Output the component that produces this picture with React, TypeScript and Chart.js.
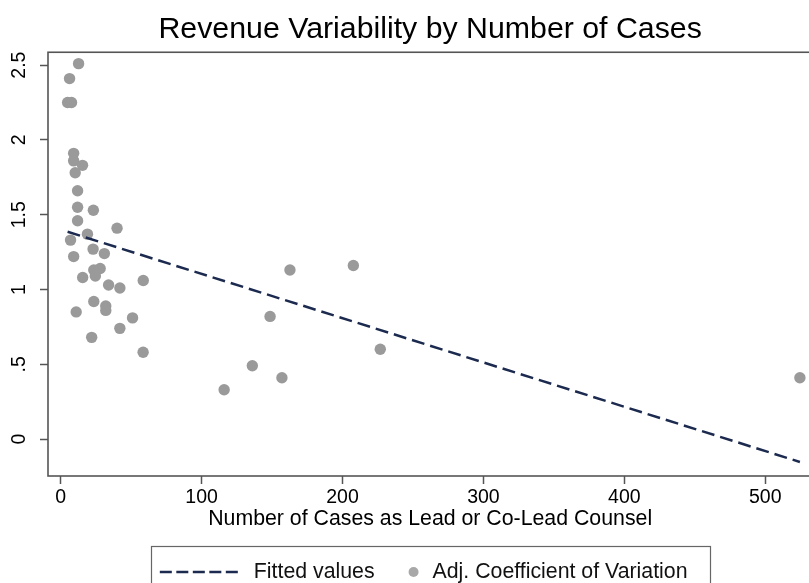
import React, { useEffect, useRef } from 'react';
import { Chart, registerables } from 'chart.js';

Chart.register(...registerables);

const FONT = "'Liberation Sans', Arial, Helvetica, sans-serif";

// Number of cases as lead or co-lead counsel (x) and adjusted coefficient of variation (y)
const caseCounts = [
  12.7, 6.3, 4.9, 7.7, 9.2, 9.2, 15.5, 10.3, 12, 12, 23.2, 12, 40, 19, 7, 23, 31, 9.2, 28, 23.5,
  24.6, 15.6, 34, 42, 58.6, 23.5, 32, 32, 11, 51, 42, 22, 58.5, 162.7, 207.7, 148.6, 226.8, 136,
  157, 116, 524.6,
];
const adjCoefVar = [
  2.51, 2.41, 2.25, 2.25, 1.91, 1.86, 1.83, 1.78, 1.66, 1.55, 1.53, 1.46, 1.41, 1.37, 1.33, 1.27,
  1.24, 1.22, 1.14, 1.13, 1.09, 1.08, 1.03, 1.01, 1.06, 0.92, 0.89, 0.86, 0.85, 0.81, 0.74, 0.68,
  0.58, 1.13, 1.16, 0.82, 0.6, 0.49, 0.41, 0.33, 0.41,
];

// Fitted values line endpoints
const fittedX = [4.9, 524.6];
const fittedY = [1.386, -0.153];

const xTicks = [0, 100, 200, 300, 400, 500];
const yTicks = [0, 0.5, 1, 1.5, 2, 2.5];
const yTickLabels = ['0', '.5', '1', '1.5', '2', '2.5'];

const seriesLabels = ['Fitted values', 'Adj. Coefficient of Variation'];
const chartTitle = 'Revenue Variability by Number of Cases';
const xTitle = 'Number of Cases as Lead or Co-Lead Counsel';

const LINE_COLOR = '#1b2a4e';
const DOT_COLOR = '#9a9a9a';
const FRAME_COLOR = '#555555';

const framePlugin = {
  id: 'plotFrame',
  beforeDatasetsDraw(chart: any) {
    const { ctx, chartArea } = chart;
    ctx.save();
    ctx.strokeStyle = FRAME_COLOR;
    ctx.lineWidth = 1.6;
    ctx.strokeRect(chartArea.left, chartArea.top, chartArea.right - chartArea.left, chartArea.bottom - chartArea.top);
    ctx.restore();
  },
};

const legendBoxPlugin = {
  id: 'legendBox',
  afterDraw(chart: any) {
    const { ctx, chartArea } = chart;
    const xs = chart.scales.x;
    const ds = chart.data.datasets;
    const top = xs.bottom + 11;
    const cy = top + 26;
    const fs = 21.3;
    ctx.save();
    ctx.font = `${fs}px ${FONT}`;
    const lineLen = 81;
    const padL = 9;
    const gap1 = 13;
    const gap2 = 39;
    const gap3 = 19;
    const padR = 22;
    const w1 = ctx.measureText(ds[0].label).width;
    const w2 = ctx.measureText(ds[1].label).width;
    const total = padL + lineLen + gap1 + w1 + gap2 + gap3 + w2 + padR;
    const cx = (chartArea.left + chartArea.right) / 2;
    const left = cx - total / 2;

    ctx.strokeStyle = '#666666';
    ctx.lineWidth = 1.2;
    ctx.strokeRect(Math.round(left) + 0.5, Math.round(top) + 0.5, Math.round(total), 56);

    let x = left + padL;
    ctx.beginPath();
    ctx.setLineDash([12, 4.5]);
    ctx.strokeStyle = ds[0].borderColor;
    ctx.lineWidth = 2.5;
    ctx.moveTo(x, cy);
    ctx.lineTo(x + lineLen, cy);
    ctx.stroke();
    ctx.setLineDash([]);
    x += lineLen + gap1;

    ctx.fillStyle = '#111111';
    ctx.textBaseline = 'middle';
    ctx.textAlign = 'left';
    ctx.fillText(ds[0].label, x, cy);
    x += w1 + gap2;

    ctx.beginPath();
    ctx.fillStyle = '#a8a8a8';
    ctx.arc(x, cy, 5, 0, Math.PI * 2);
    ctx.fill();
    x += gap3;

    ctx.fillStyle = '#111111';
    ctx.fillText(ds[1].label, x, cy);
    ctx.restore();
  },
};

export default function App() {
  const canvasRef = useRef<HTMLCanvasElement | null>(null);

  useEffect(() => {
    const canvas = canvasRef.current;
    if (!canvas) return;
    const fitted = fittedX.map((x, i) => ({ x, y: fittedY[i] }));
    const points = caseCounts.map((x, i) => ({ x, y: adjCoefVar[i] }));

    const chart = new Chart(canvas, {
      type: 'scatter',
      data: {
        datasets: [
          {
            label: seriesLabels[0],
            data: fitted,
            showLine: true,
            borderColor: LINE_COLOR,
            backgroundColor: LINE_COLOR,
            borderWidth: 2.5,
            borderDash: [13, 6],
            pointRadius: 0,
            pointHoverRadius: 0,
          } as any,
          {
            label: seriesLabels[1],
            data: points,
            backgroundColor: DOT_COLOR,
            borderColor: DOT_COLOR,
            borderWidth: 0,
            pointRadius: 5.7,
            pointHoverRadius: 5.7,
          },
        ],
      },
      options: {
        responsive: false,
        animation: false,
        events: [],
        layout: { padding: { left: 0, right: 0, top: 0, bottom: 65 } },
        plugins: {
          legend: { display: false },
          tooltip: { enabled: false },
          title: {
            display: true,
            text: chartTitle,
            fullSize: false,
            color: '#000000',
            font: { family: FONT, size: 30.3, weight: 'normal', lineHeight: 1.2 },
            padding: { top: 11.5, bottom: 4.4 },
          },
        },
        scales: {
          x: {
            type: 'linear',
            min: -9.0,
            max: 533.4,
            afterBuildTicks: (s: any) => {
              s.ticks = xTicks.map((v) => ({ value: v }));
            },
            afterFit: (s: any) => {
              s.height = 59;
            },
            border: { display: false },
            grid: {
              display: true,
              drawOnChartArea: false,
              drawTicks: true,
              tickLength: 8,
              tickColor: FRAME_COLOR,
              tickWidth: 1.5,
            },
            ticks: {
              color: '#000000',
              font: { family: FONT, size: 19.5 },
              padding: 1.5,
              maxRotation: 0,
              minRotation: 0,
              autoSkip: false,
              callback: (v: any) => String(v),
            },
            title: {
              display: true,
              text: xTitle,
              color: '#000000',
              font: { family: FONT, size: 21.3 },
              padding: { top: 0, bottom: 3 },
            },
          },
          y: {
            type: 'linear',
            min: -0.247,
            max: 2.586,
            afterBuildTicks: (s: any) => {
              s.ticks = yTicks.map((v) => ({ value: v }));
            },
            afterFit: (s: any) => {
              s.width = 48;
            },
            border: { display: false },
            grid: {
              display: true,
              drawOnChartArea: false,
              drawTicks: true,
              tickLength: 8,
              tickColor: FRAME_COLOR,
              tickWidth: 1.5,
            },
            ticks: {
              color: '#000000',
              font: { family: FONT, size: 19.5 },
              padding: 7.3,
              minRotation: 90,
              maxRotation: 90,
              crossAlign: 'center',
              autoSkip: false,
              callback: (v: any) => {
                const i = yTicks.indexOf(Number(v));
                return i >= 0 ? yTickLabels[i] : '';
              },
            },
          },
        },
      },
      plugins: [framePlugin, legendBoxPlugin],
    });

    return () => chart.destroy();
  }, []);

  return (
    <div style={{ position: 'fixed', left: 0, top: 0, width: 809, height: 583, overflow: 'hidden', background: '#ffffff' }}>
      <canvas ref={canvasRef} width={818} height={600} style={{ display: 'block', width: 818, height: 600 }} />
    </div>
  );
}
